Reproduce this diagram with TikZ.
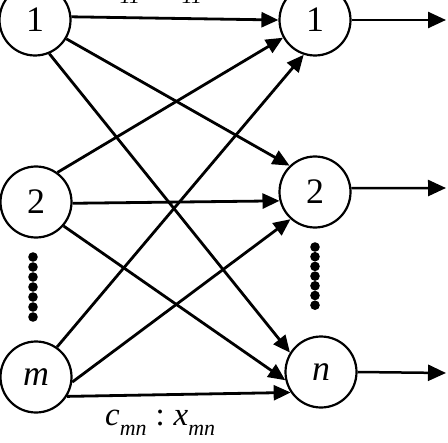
\documentclass[tikz,border=0pt]{standalone}
\usepackage{fontspec}
\setmainfont{Liberation Serif}
\usetikzlibrary{arrows.meta}
\newcommand{\mylab}[2]{\textit{#1}\raisebox{-10bp}{\fontsize{22}{22}\selectfont\textit{#2}}}
\begin{document}
\begin{tikzpicture}[x=1bp,y=-1bp,
  nd/.style={circle,draw,line width=2.2bp,minimum size=71bp,inner sep=0pt,font=\fontsize{36}{36}\selectfont},
  arr/.style={line width=2.8bp,-{Triangle[length=17bp,width=15bp]}},
  outarr/.style={line width=2.5bp,-{Triangle[length=18bp,width=16bp]}},
  lbl/.style={anchor=base west,inner sep=0pt,font=\fontsize{33}{33}\selectfont}]
\useasboundingbox (0,0) rectangle (448,443);
\clip (0,0) rectangle (448,443);
% nodes
\node[nd] (L1) at (35,20) {1};
\node[nd] (L2) at (36,202) {2};
\node[nd] (Lm) at (36,377) {\textit{m}};
\node[nd] (R1) at (315,20) {1};
\node[nd] (R2) at (315,192) {2};
\node[nd] (Rn) at (321,372) {\textit{n}};
% connectors
\draw[arr] (L1.5) -- (R1.180);
\draw[arr] (L1.-31) -- (R2.134);
\draw[arr] (L1.-67) -- (Rn.148);
\draw[arr] (L2.54) -- (R1.209);
\draw[arr] (L2.-2) -- (R2.194);
\draw[arr] (L2.-41) -- (Rn.193);
\draw[arr] (Lm.55) -- (R1.252);
\draw[arr] (Lm.-8) -- (R2.228);
\draw[arr] (Lm.-32) -- (Rn.214);
% outputs
\coordinate (o1) at (446,20);
\coordinate (o2) at (446,188);
\coordinate (o3) at (446,373);
\draw[outarr] (R1.east) -- (o1);
\draw[outarr] (R2.6) -- (o2);
\draw[outarr] (Rn.east) -- (o3);
% dots
\foreach \k in {0,...,6} {
  \fill (33,257+10*\k) circle (4.8);
  \fill (315,247+9.7*\k) circle (4.8);
}
% labels
\node[lbl] (tl) at (105,-6) {\mylab{c}{11}\hspace{9bp}:\hspace{9bp}\mylab{x}{11}};
\node[lbl] (bl) at (105,425) {\mylab{c}{mn}\hspace{9bp}:\hspace{9bp}\mylab{x}{mn}};
\end{tikzpicture}
\end{document}
